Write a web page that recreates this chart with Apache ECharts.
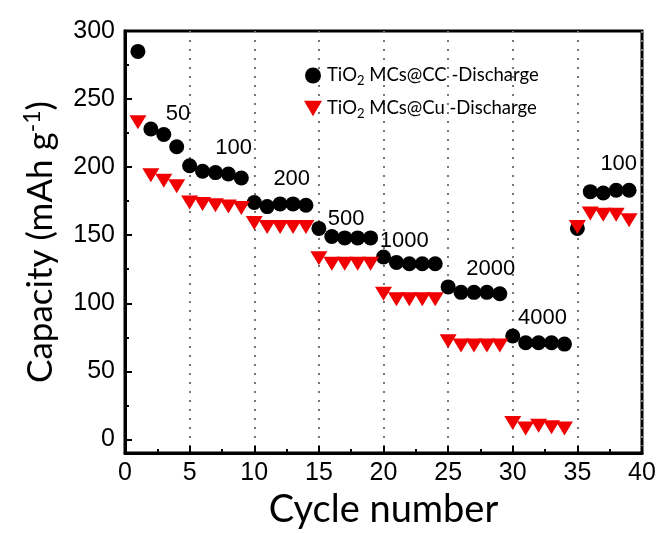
<!DOCTYPE html>
<html>
<head>
<meta charset="utf-8">
<script src="https://cdn.jsdelivr.net/npm/echarts@6/dist/echarts.min.js"></script>
<style>
  html, body { margin: 0; padding: 0; background: #fff; }
  #chart { width: 670px; height: 533px; }
</style>
</head>
<body>
<div id="chart"></div>
<script>
// cycle index 1..39
const cycles = [1, 2, 3, 4, 5, 6, 7, 8, 9, 10, 11, 12, 13, 14, 15, 16, 17, 18, 19, 20,
  21, 22, 23, 24, 25, 26, 27, 28, 29, 30, 31, 32, 33, 34, 35, 36, 37, 38, 39];
// TiO2 MCs@CC discharge capacity
const ccDischarge = [285, 228, 224, 215, 201, 197, 196, 195, 192, 174, 171, 173, 173, 172,
  155, 149, 148, 148, 148, 134, 130, 129, 129, 129, 112, 108, 108, 108, 107,
  76, 71, 71, 71, 70, 155, 182, 181, 183, 183];
// TiO2 MCs@Cu discharge capacity
const cuDischarge = [233, 194, 190, 186, 174, 173, 172, 171, 170, 159, 156, 156, 156, 156,
  133, 129, 129, 129, 129, 107, 103, 103, 103, 103, 72, 69, 69, 69, 69,
  12, 8, 10, 9, 8, 156, 166, 165, 165, 161];
// current density annotations
const rateNames = ['50', '100', '200', '500', '1000', '2000', '4000', '100'];
const rateX = [4.1, 8.4, 12.9, 17.1, 21.6, 28.3, 32.3, 38.2];
const rateY = [239, 214, 191, 162, 146, 125, 89, 202];
// y ticks
const yMajor = [0, 50, 100, 150, 200, 250, 300];
const yMinor = [25, 75, 125, 175, 225, 275];

const chart = echarts.init(document.getElementById('chart'));

const tickFont = 'Liberation Sans, Arial, sans-serif';
const titleFont = 'Lato, Open Sans, sans-serif';

chart.setOption({
  animation: false,
  grid: {
    left: 125, right: 28, top: 31, bottom: 80,
    show: true, borderColor: '#000', borderWidth: 3,
    outerBoundsMode: 'none'
  },
  legend: {
    orient: 'vertical',
    left: 299, top: 61,
    itemGap: 12,
    itemWidth: 18, itemHeight: 16,
    textStyle: {
      fontFamily: titleFont, fontSize: 18.5, color: '#000',
      rich: {
        sub: { fontFamily: titleFont, fontSize: 13, color: '#000', verticalAlign: 'bottom', padding: [10, 0, 0, 0] }
      }
    },
    formatter: function (name) {
      return name === 'cc' ? 'TiO{sub|2} MCs@CC -Discharge' : 'TiO{sub|2} MCs@Cu -Discharge';
    },
    data: [
      { name: 'cc', icon: 'circle' },
      { name: 'cu', icon: 'path://M0,0 L20,0 L10,17 Z' }
    ]
  },
  xAxis: {
    type: 'value', min: 0, max: 40, interval: 5,
    name: 'Cycle number', nameLocation: 'middle', nameGap: 36,
    nameTextStyle: { fontFamily: titleFont, fontSize: 38, color: '#000' },
    axisLine: { onZero: false, lineStyle: { color: '#000', width: 3 } },
    axisTick: { inside: true, length: 7, lineStyle: { color: '#000', width: 2 } },
    minorTick: { show: true, splitNumber: 2, length: 4, lineStyle: { color: '#000', width: 2 } },
    axisLabel: { fontFamily: tickFont, fontSize: 25, color: '#000', margin: 8 },
    splitLine: { show: true, lineStyle: { color: '#777', width: 2, type: [2, 7] } }
  },
  yAxis: [
    {
      type: 'value', min: -10, max: 300,
      name: 'Capacity (mAh g{sup|-1})', nameLocation: 'middle', nameGap: 65,
      nameTextStyle: {
        fontFamily: titleFont, fontSize: 35, color: '#000',
        rich: { sup: { fontFamily: titleFont, fontSize: 23, color: '#000', verticalAlign: 'top', padding: [0, 0, 16, 0] } }
      },
      axisLine: { onZero: false, lineStyle: { color: '#000', width: 3 } },
      axisTick: { inside: true, length: 7, customValues: yMajor, lineStyle: { color: '#000', width: 2 } },
      axisLabel: { fontFamily: tickFont, fontSize: 25, color: '#000', margin: 10, customValues: yMajor },
      splitLine: { show: false }
    },
    {
      // minor ticks only
      type: 'value', min: -10, max: 300, position: 'left',
      axisLine: { show: false },
      axisTick: { inside: true, length: 4, customValues: yMinor, lineStyle: { color: '#000', width: 2 } },
      axisLabel: { show: false },
      splitLine: { show: false }
    }
  ],
  series: [
    {
      name: 'cc', type: 'scatter',
      symbol: 'circle', symbolSize: 15,
      itemStyle: { color: '#000', opacity: 1 },
      data: cycles.map((c, i) => [c, ccDischarge[i]]),
      z: 3
    },
    {
      name: 'cu', type: 'scatter',
      symbol: 'triangle', symbolRotate: 180, symbolSize: [17, 14],
      itemStyle: { color: '#f00000', opacity: 1 },
      data: cycles.map((c, i) => [c, cuDischarge[i]]),
      z: 4
    },
    {
      name: 'rates', type: 'scatter',
      symbolSize: 0, silent: true,
      itemStyle: { opacity: 1 },
      label: {
        show: true, position: 'inside',
        fontFamily: tickFont, fontSize: 22, color: '#000',
        formatter: function (p) { return rateNames[p.dataIndex]; }
      },
      data: rateX.map((x, i) => [x, rateY[i]]),
      z: 5
    }
  ]
});
</script>
</body>
</html>
